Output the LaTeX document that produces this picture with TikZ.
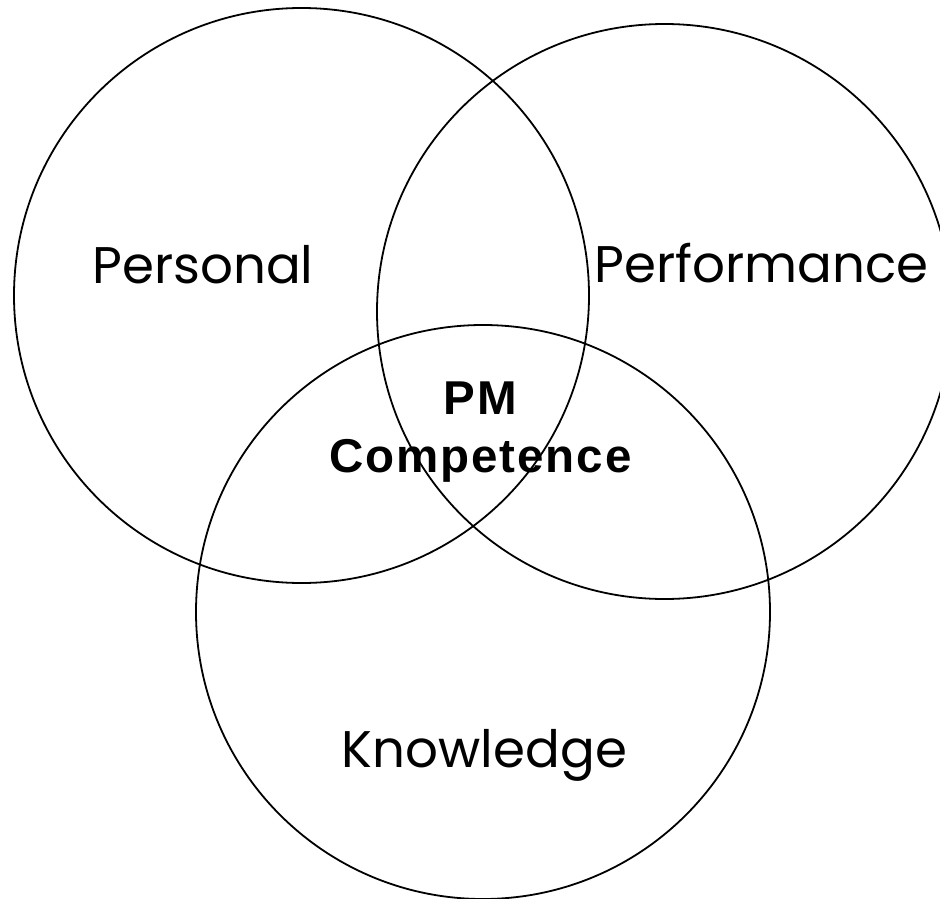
\documentclass[tikz,border=0pt]{standalone}
\usepackage{fontspec}
\setmainfont{Poppins}
\newfontfamily\pmfont[LetterSpace=4]{Liberation Sans}
\begin{document}
\begin{tikzpicture}[x=1pt,y=-1pt,
  venn/.style={draw=black,line width=1.8pt},
  lbl/.style={anchor=base,inner sep=0pt,font=\fontsize{51.5}{60}\selectfont},
  core/.style={anchor=base,inner sep=0pt,font=\pmfont\bfseries\fontsize{47.5}{56}\selectfont}]
\useasboundingbox (0,0) rectangle (940,899);
\clip (0,0) rectangle (940,899);
\draw[venn] (301.5,295.5) circle[radius=287.5];
\draw[venn] (664.5,311.5) circle[radius=287.5];
\draw[venn] (483,612) circle[radius=287];
\node[lbl] (personal) at (203,283) {Personal};
\node[lbl] (performance) at (761.5,282) {Performance};
\node[lbl] (knowledge) at (484.5,767) {Knowledge};
\node[core] (pm) at (480.5,414) {PM};
\node[core] (competence) at (480.5,472) {Competence};
\end{tikzpicture}
\end{document}
